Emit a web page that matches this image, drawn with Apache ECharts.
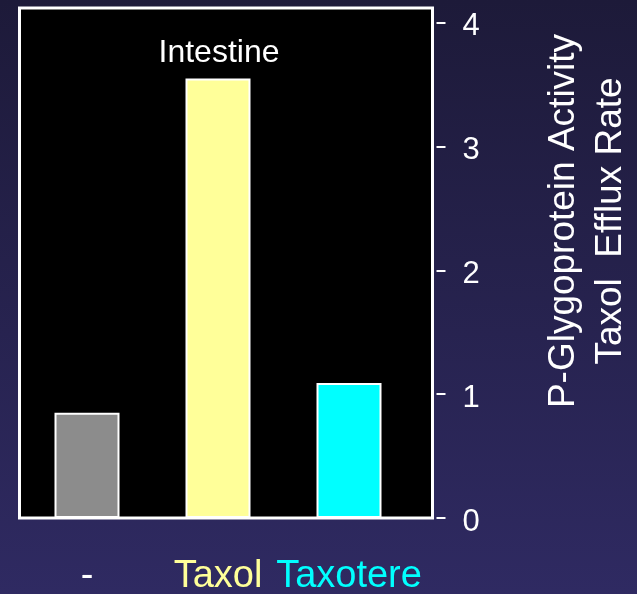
<!DOCTYPE html>
<html>
<head>
<meta charset="utf-8">
<script src="https://cdn.jsdelivr.net/npm/echarts@6/dist/echarts.min.js"></script>
<style>
html,body{margin:0;padding:0;width:637px;height:594px;overflow:hidden;}
#c{width:637px;height:594px;}
</style>
</head>
<body>
<div id="c"></div>
<script>
// Data
const categories = ['-', 'Taxol', 'Taxotere'];
const values = [0.85, 3.55, 1.09];
const yTicks = [0, 1, 2, 3, 4];
const panelTitle = 'Intestine';
const axisTitleLines = ['P-Glygoprotein Activity', 'Taxol  Efflux Rate'];

// Styles
const barColors = ['#8c8c8c', '#ffff99', '#00ffff'];
const labelColors = ['#ffffff', '#ffff99', '#00ffff'];
const FONT = "'Liberation Sans', Arial, sans-serif";
const Y_MAX = 4.12;

const chart = echarts.init(document.getElementById('c'), null, {renderer: 'canvas'});

const rich = {};
categories.forEach((c, i) => { rich['c' + i] = {color: labelColors[i], fontSize: 38, fontFamily: FONT}; });

chart.setOption({
  backgroundColor: new echarts.graphic.LinearGradient(0, 0, 0, 1, [
    {offset: 0, color: '#1d1a39'},
    {offset: 1, color: '#2f2a62'}
  ]),
  animation: false,
  grid: [
    {left: 21.5, width: 393, top: 8, bottom: 76, show: false, containLabel: false, outerBoundsMode: 'none'},
    {left: 19.5, width: 413, top: 8, bottom: 76, show: true, backgroundColor: '#000000',
     borderColor: '#ffffff', borderWidth: 3, containLabel: false, outerBoundsMode: 'none'}
  ],
  xAxis: [
    {type: 'category', gridIndex: 0, data: categories,
     axisLine: {show: false}, axisTick: {show: false},
     axisLabel: {
       margin: 40,
       formatter: (v, i) => '{c' + i + '|' + v + '}',
       rich: rich
     }},
    {type: 'category', gridIndex: 1, data: categories, show: false}
  ],
  yAxis: [
    {type: 'value', gridIndex: 0, min: 0, max: Y_MAX, show: false},
    {type: 'value', gridIndex: 1, min: 0, max: Y_MAX, interval: 1, position: 'right', offset: 4,
     axisLine: {show: false},
     splitLine: {show: false},
     axisTick: {show: true, length: 9, lineStyle: {color: '#ffffff', width: 2}, customValues: yTicks},
     axisLabel: {show: true, margin: 26, color: '#ffffff', fontSize: 31, fontFamily: FONT,
                 customValues: yTicks, verticalAlign: 'top', lineHeight: 8}}
  ],
  series: [{
    type: 'bar',
    xAxisIndex: 0, yAxisIndex: 0,
    barWidth: 65,
    data: values.map((v, i) => ({value: v, itemStyle: {color: barColors[i]}})),
    itemStyle: {borderColor: '#ffffff', borderWidth: 2},
    z: 5
  }],
  graphic: [
    {type: 'text', z: 10, position: [219, 53],
     style: {text: panelTitle, fill: '#ffffff', font: '32px ' + FONT, textAlign: 'center', textVerticalAlign: 'middle'}},
    {type: 'text', z: 10, position: [587, 221], rotation: Math.PI / 2,
     style: {text: axisTitleLines.join('\n'), fill: '#ffffff', font: '37px ' + FONT,
             textAlign: 'center', textVerticalAlign: 'middle', lineHeight: 47}}
  ]
});
</script>
</body>
</html>
